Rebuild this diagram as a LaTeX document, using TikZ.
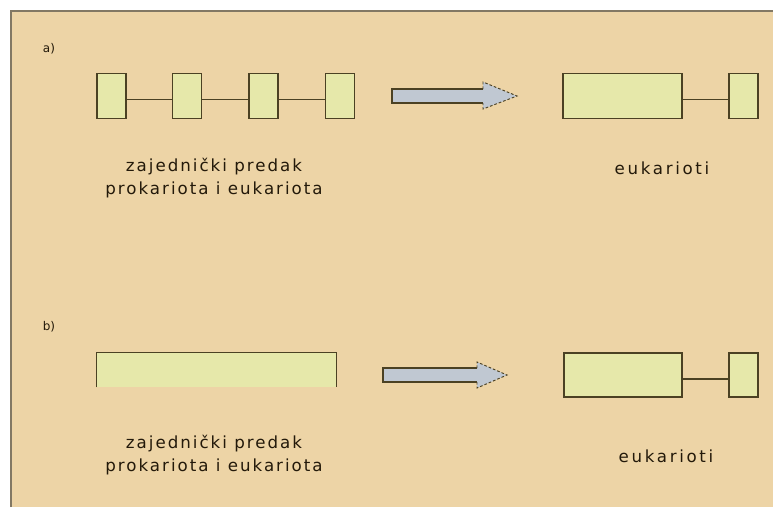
\documentclass[tikz,border=0pt]{standalone}
\usepackage{fontspec}
\setmainfont{DejaVu Sans}
\newfontfamily\spacedA[LetterSpace=12]{DejaVu Sans}
\newfontfamily\spacedB[LetterSpace=16]{DejaVu Sans}
\definecolor{bg}{RGB}{237,212,166}
\definecolor{frame}{RGB}{130,120,100}
\definecolor{boxfill}{RGB}{230,232,170}
\definecolor{boxline}{RGB}{75,65,35}
\definecolor{arrfill}{RGB}{192,200,210}
\definecolor{txt}{RGB}{35,25,10}
\tikzset{
  gbox/.style={draw=boxline, line width=0.9pt, fill=boxfill, inner sep=0pt},
  link/.style={draw=boxline, line width=0.8pt},
  lbl/.style={text=txt, font=\spacedA\fontsize{12.5}{17.25}\selectfont, align=center, inner sep=0pt},
  rlbl/.style={text=txt, font=\spacedB\fontsize{12.5}{17.25}\selectfont, align=center, inner sep=0pt},
  tag/.style={text=txt, font=\fontsize{9}{10}\selectfont, inner sep=0pt},
}
\begin{document}
\begin{tikzpicture}[x=0.75pt,y=-0.75pt]
\useasboundingbox (0,0) rectangle (773,507);
\fill[white] (0,0) rectangle (773,507);
\fill[bg] (11,11) rectangle (773,507);
\draw[frame, line width=1.4pt] (11,507) -- (11,11) -- (773,11);

% ---- a) ----
\node[tag] (ta) at (49,49) {a)};
\node[gbox, minimum width=21.75pt, minimum height=33.75pt] (a1) at (111.5,95.8) {};
\node[gbox, minimum width=21.75pt, minimum height=33.75pt] (a2) at (187,95.8) {};
\node[gbox, minimum width=21.75pt, minimum height=33.75pt] (a3) at (263.5,95.8) {};
\node[gbox, minimum width=21.75pt, minimum height=33.75pt] (a4) at (340,95.8) {};
\draw[link] ([yshift=-3pt]a1.east) -- ([yshift=-3pt]a2.west);
\draw[link] ([yshift=-3pt]a2.east) -- ([yshift=-3pt]a3.west);
\draw[link] ([yshift=-3pt]a3.east) -- ([yshift=-3pt]a4.west);

\fill[arrfill] (392,89) -- (483,89) -- (483,82) -- (517,96) -- (483,109) -- (483,103) -- (392,103) -- cycle;
\draw[boxline, line width=0.9pt] (483,89) -- (392,89) -- (392,103) -- (483,103);
\draw[boxline, line width=0.7pt, dashed, dash pattern=on 2pt off 1.5pt] (483,89) -- (483,82) -- (517,96) -- (483,109) -- (483,103);

\node[gbox, minimum width=89.25pt, minimum height=33.75pt] (ea1) at (622.5,95.8) {};
\node[gbox, minimum width=21.75pt, minimum height=33.75pt] (ea2) at (743.5,95.8) {};
\draw[link] ([yshift=-3pt]ea1.east) -- ([yshift=-3pt]ea2.west);

\node[lbl] (la) at (214,178) {zajednički predak\\prokariota i eukariota};
\node[rlbl] (ra) at (662,168) {eukarioti};

% ---- b) ----
\node[tag] (tb) at (49,327) {b)};
\fill[boxfill] (97,353) rectangle (336,387);
\node[inner sep=0pt, minimum width=179.25pt, minimum height=25.5pt] (b1) at (216.5,370) {};
\draw[link, line width=0.9pt] (b1.south west) -- (b1.north west) -- (b1.north east) -- (b1.south east);

\fill[arrfill] (383,368) -- (477,368) -- (477,362) -- (507,375) -- (477,388) -- (477,382) -- (383,382) -- cycle;
\draw[boxline, line width=0.9pt] (477,368) -- (383,368) -- (383,382) -- (477,382);
\draw[boxline, line width=0.7pt, dashed, dash pattern=on 2pt off 1.5pt] (477,368) -- (477,362) -- (507,375) -- (477,388) -- (477,382);

\node[gbox, minimum width=88.5pt, minimum height=33pt] (eb1) at (623,375) {};
\node[gbox, minimum width=21.75pt, minimum height=33pt] (eb2) at (743.5,375) {};
\draw[link] ([yshift=-3pt]eb1.east) -- ([yshift=-3pt]eb2.west);

\node[lbl] (lb) at (214,455) {zajednički predak\\prokariota i eukariota};
\node[rlbl] (rb) at (666,456) {eukarioti};
\end{tikzpicture}
\end{document}
